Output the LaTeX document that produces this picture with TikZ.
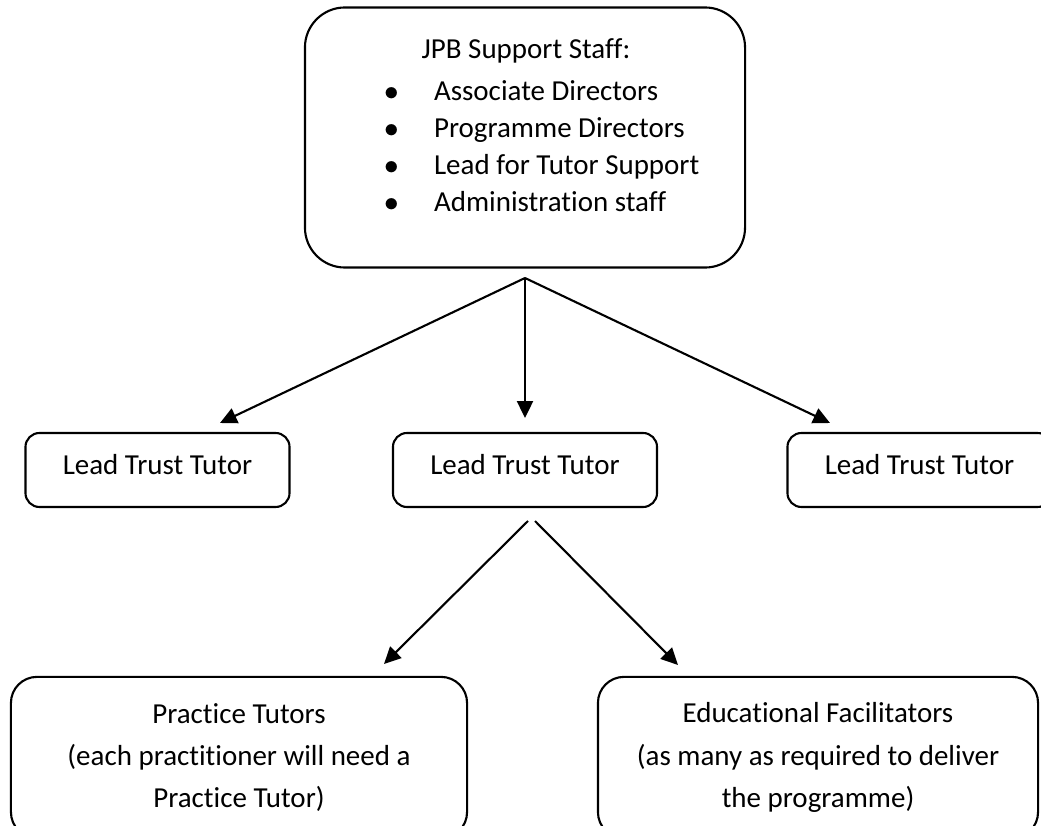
\documentclass[tikz,border=0pt]{standalone}
\usepackage{fontspec}
\setmainfont{Carlito}[Ligatures={NoCommon}]
\usepackage{tikz}
\usetikzlibrary{arrows.meta,positioning}

\begin{document}
\begin{tikzpicture}[x=0.025cm,y=-0.025cm,
  line width=1.5pt,
  font=\fontsize{20.6}{26}\selectfont,
  staffbox/.style={draw,rounded corners=1cm,minimum width=11cm,minimum height=6.5cm},
  leadbox/.style={draw,rounded corners=0.35cm,minimum width=6.6cm,minimum height=1.85cm,text depth=0.3cm},
  teambox/.style={draw,rounded corners=0.65cm,minimum width=11.1cm,minimum height=4.03cm,
    align=center,font=\fontsize{20.6}{30}\selectfont},
  arr/.style={-{Triangle[length=0.42cm,width=0.4cm]}}]
  \useasboundingbox (0,0) rectangle (1041,826);
  \clip (0,0) rectangle (1041,826);

  % top box
  \node[staffbox] (jpb) at (525,137.5) {};
  \node[anchor=base] (jpbhead) at (526,59) {JPB Support Staff:};
  \foreach \txt [count=\i] in {Associate Directors,Programme Directors,Lead for Tutor Support,Administration staff}{
    \node[anchor=base] (dot\i) at (392,63.5+37*\i) {$\bullet$};
    \node[anchor=base west,inner xsep=0pt] (item\i) at (433,63.5+37*\i) {\txt};
  }

  % lead trust tutors
  \node[leadbox] (lead1) at (157.5,470) {Lead Trust Tutor};
  \node[leadbox] (lead2) at (525,470) {Lead Trust Tutor};
  \node[leadbox] (lead3) at (919.5,470) {Lead Trust Tutor};

  % tutors and facilitators
  \node[teambox,minimum width=11.4cm] (prac) at (239,757.5)
    {Practice Tutors\\(each practitioner will need a\\Practice Tutor)};
  \node[teambox,minimum width=11cm] (educ) at (818,757.5)
    {Educational Facilitators\\(as many as required to deliver\\the programme)};

  % arrows
  \coordinate (split) at (525,278);
  \coordinate (toL) at (220,423);
  \coordinate (toR) at (830,423);
  \draw[arr] (split) -- (toL);
  \draw[arr,shorten >=0.35cm] (split) -- (lead2.north);
  \draw[arr] (split) -- (toR);

  \coordinate (fromL) at (528,521);
  \coordinate (fromR) at (535,521);
  \coordinate (toP) at (384,664);
  \coordinate (toE) at (678,665);
  \draw[arr] (fromL) -- (toP);
  \draw[arr] (fromR) -- (toE);
\end{tikzpicture}
\end{document}
